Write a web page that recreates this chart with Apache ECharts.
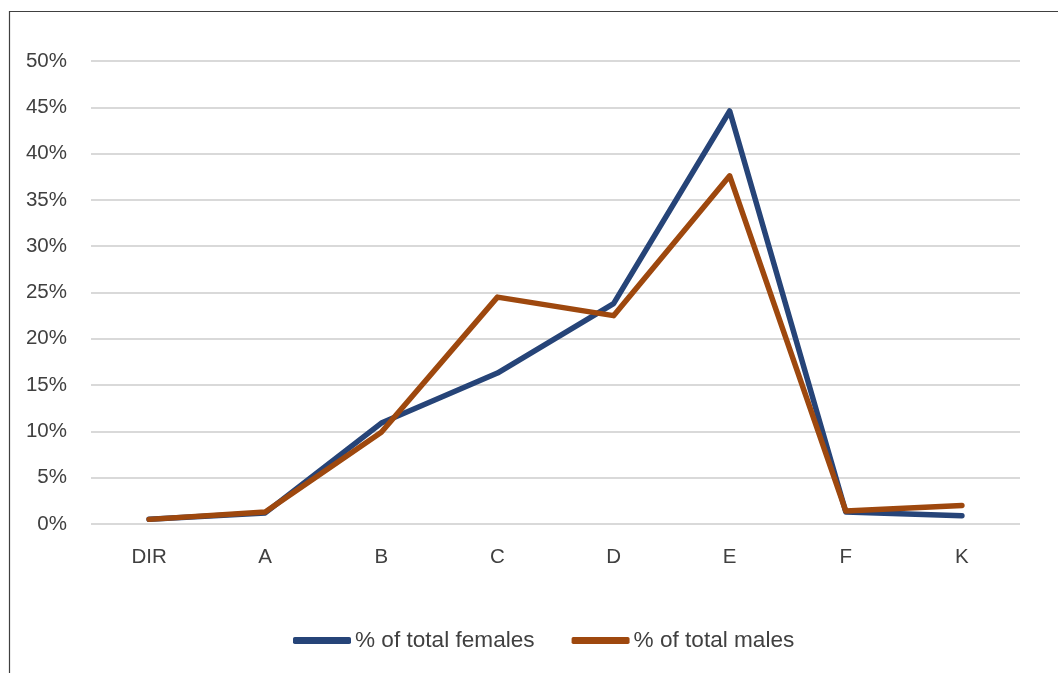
<!DOCTYPE html>
<html>
<head>
<meta charset="utf-8">
<script src="https://cdn.jsdelivr.net/npm/echarts@6/dist/echarts.min.js"></script>
<style>
html,body{margin:0;padding:0;background:#fff;}
#chart{width:1058px;height:673px;}
</style>
</head>
<body>
<div id="chart"></div>
<script>
const categories = ['DIR', 'A', 'B', 'C', 'D', 'E', 'F', 'K'];
const females = [0.5, 1.2, 10.9, 16.3, 23.8, 44.6, 1.3, 0.9];
const males = [0.5, 1.3, 9.9, 24.5, 22.5, 37.6, 1.4, 2.0];
const seriesNames = ['% of total females', '% of total males'];

const FONT = '"Liberation Sans", Arial, sans-serif';
const chart = echarts.init(document.getElementById('chart'));
chart.setOption({
  animation: false,
  backgroundColor: '#ffffff',
  graphic: [{
    type: 'rect',
    shape: { x: 9.5, y: 11.5, width: 1100, height: 700 },
    style: { fill: 'none', stroke: '#404040', lineWidth: 1.2 },
    silent: true
  }],
  grid: { left: 91, right: 38, top: 61, bottom: 149 },
  legend: {
    left: 288, top: 624,
    itemWidth: 58, itemHeight: 7, itemGap: 37,
    icon: 'roundRect',
    textStyle: { fontFamily: FONT, fontSize: 22.6, color: '#404040', padding: [0, 0, 0, -1] },
    data: seriesNames
  },
  xAxis: {
    type: 'category',
    data: categories,
    boundaryGap: true,
    axisLine: { show: false },
    axisTick: { show: false },
    axisLabel: { fontFamily: FONT, fontSize: 20.5, color: '#404040', margin: 23 }
  },
  yAxis: {
    type: 'value',
    min: 0, max: 50, interval: 5,
    axisLine: { show: false },
    axisTick: { show: false },
    axisLabel: { fontFamily: FONT, fontSize: 20.5, color: '#404040', margin: 24, formatter: '{value}%', lineHeight: 24, verticalAlign: 'middle', padding: [4, 0, 0, 0] },
    splitLine: { lineStyle: { color: '#d9d9d9', width: 2 } }
  },
  series: [
    {
      name: seriesNames[0], type: 'line', data: females, symbol: 'none',
      lineStyle: { color: '#264478', width: 5.5, cap: 'round', join: 'round' },
      itemStyle: { color: '#264478' }
    },
    {
      name: seriesNames[1], type: 'line', data: males, symbol: 'none',
      lineStyle: { color: '#9e480e', width: 5.5, cap: 'round', join: 'round' },
      itemStyle: { color: '#9e480e' }
    }
  ]
});
</script>
</body>
</html>
